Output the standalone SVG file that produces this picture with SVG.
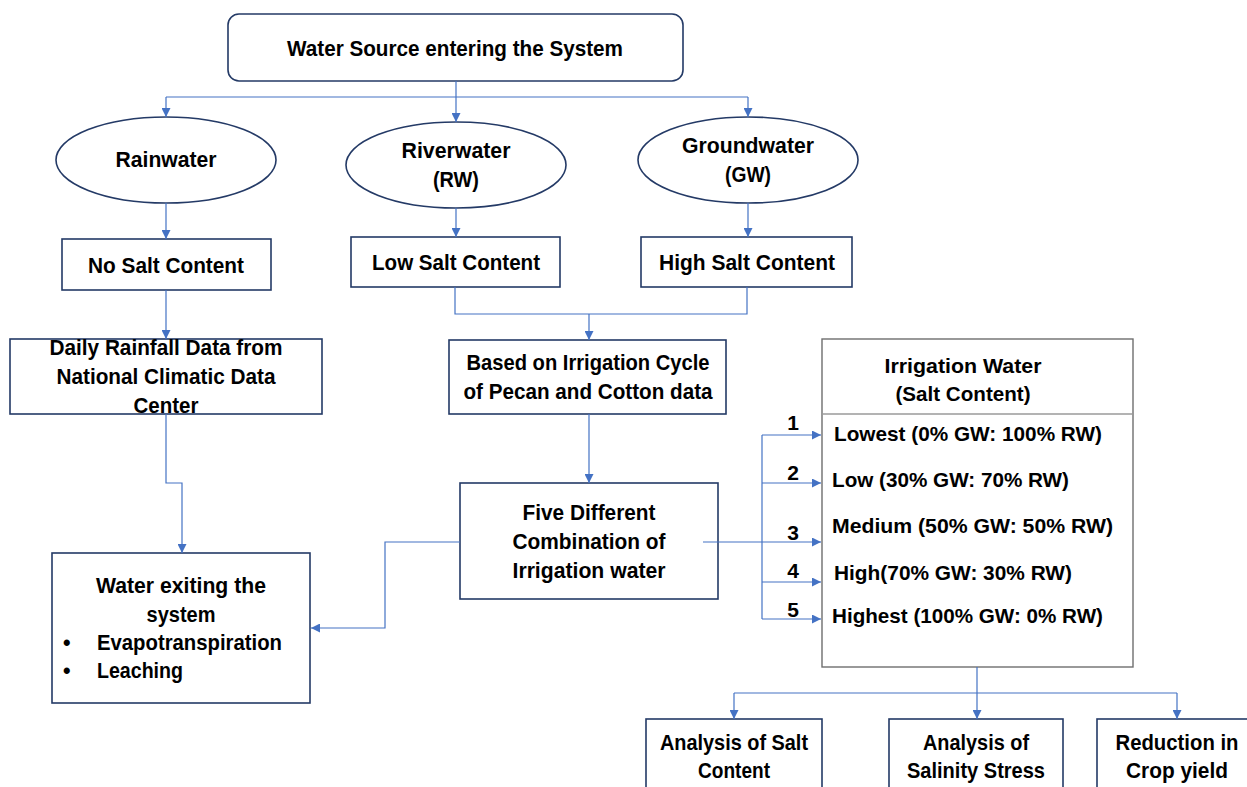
<svg xmlns="http://www.w3.org/2000/svg" width="1247" height="787" viewBox="0 0 1247 787">
<style>
  .box{fill:#fff;stroke:#243a66;stroke-width:1.6}
  .gbox{fill:#fff;stroke:#6e6e6e;stroke-width:1.4}
  .t{font-family:"Liberation Sans",Arial,sans-serif;font-weight:bold;font-size:21.5px;fill:#000;text-anchor:middle}
  .r{font-size:21px}
  .l{text-anchor:start}
  .c{fill:none;stroke:#4472C4;stroke-width:1.2}
</style>
<defs>
  <marker id="ah" viewBox="0 0 10 10" refX="10" refY="5" markerWidth="9" markerHeight="9" markerUnits="userSpaceOnUse" orient="auto">
    <path d="M0,0 L10,5 L0,10 z" fill="#4472C4"/>
  </marker>
</defs>
<rect width="1247" height="787" fill="#fff"/>
<g id="n-source">
  <rect class="box" x="228" y="14" width="455" height="67" rx="11"/>
  <text class="t" x="455" y="56" textLength="336" lengthAdjust="spacingAndGlyphs">Water Source entering the System</text>
</g>
<g id="n-rain">
  <ellipse class="box" cx="166" cy="160" rx="110" ry="43"/>
  <text class="t" x="166" y="167" textLength="101" lengthAdjust="spacingAndGlyphs">Rainwater</text>
</g>
<g id="n-river">
  <ellipse class="box" cx="456" cy="165" rx="110" ry="43"/>
  <text class="t" x="456" y="158" textLength="109" lengthAdjust="spacingAndGlyphs">Riverwater</text>
  <text class="t" x="456" y="187" textLength="46" lengthAdjust="spacingAndGlyphs">(RW)</text>
</g>
<g id="n-ground">
  <ellipse class="box" cx="748" cy="160" rx="110" ry="43"/>
  <text class="t" x="748" y="153" textLength="132" lengthAdjust="spacingAndGlyphs">Groundwater</text>
  <text class="t" x="748" y="182" textLength="46" lengthAdjust="spacingAndGlyphs">(GW)</text>
</g>
<g id="n-nosalt">
  <rect class="box" x="62" y="239" width="209" height="51"/>
  <text class="t" x="166" y="273" textLength="156" lengthAdjust="spacingAndGlyphs">No Salt Content</text>
</g>
<g id="n-lowsalt">
  <rect class="box" x="351" y="237" width="209" height="50"/>
  <text class="t" x="456" y="270" textLength="168" lengthAdjust="spacingAndGlyphs">Low Salt Content</text>
</g>
<g id="n-highsalt">
  <rect class="box" x="641" y="237" width="211" height="50"/>
  <text class="t" x="747" y="270" textLength="176" lengthAdjust="spacingAndGlyphs">High Salt Content</text>
</g>
<g id="n-daily">
  <rect class="box" x="10" y="339" width="312" height="75"/>
  <text class="t" x="166" y="355" textLength="233" lengthAdjust="spacingAndGlyphs">Daily Rainfall Data from</text>
  <text class="t" x="166" y="384" textLength="219" lengthAdjust="spacingAndGlyphs">National Climatic Data</text>
  <text class="t" x="166" y="413" textLength="65" lengthAdjust="spacingAndGlyphs">Center</text>
</g>
<g id="n-based">
  <rect class="box" x="449" y="340" width="277" height="74"/>
  <text class="t" x="588" y="370" textLength="243" lengthAdjust="spacingAndGlyphs">Based on Irrigation Cycle</text>
  <text class="t" x="588" y="399" textLength="249" lengthAdjust="spacingAndGlyphs">of Pecan and Cotton data</text>
</g>
<g id="n-five">
  <rect class="box" x="460" y="483" width="258" height="116"/>
  <text class="t" x="589" y="520" textLength="133" lengthAdjust="spacingAndGlyphs">Five Different</text>
  <text class="t" x="589" y="549" textLength="153" lengthAdjust="spacingAndGlyphs">Combination of</text>
  <text class="t" x="589" y="578" textLength="153" lengthAdjust="spacingAndGlyphs">Irrigation water</text>
</g>
<g id="n-exit">
  <rect class="box" x="52" y="553" width="258" height="150"/>
  <text class="t" x="181" y="593" textLength="170" lengthAdjust="spacingAndGlyphs">Water exiting the</text>
  <text class="t" x="181" y="622" textLength="69" lengthAdjust="spacingAndGlyphs">system</text>
  <text class="t l" x="63" y="650">•</text>
  <text class="t l" x="97" y="650" textLength="185" lengthAdjust="spacingAndGlyphs">Evapotranspiration</text>
  <text class="t l" x="63" y="678">•</text>
  <text class="t l" x="97" y="678" textLength="86" lengthAdjust="spacingAndGlyphs">Leaching</text>
</g>
<g id="n-irrigation">
  <rect class="gbox" x="822" y="339" width="311" height="328"/>
  <line x1="822" y1="414" x2="1133" y2="414" stroke="#9a9a9a" stroke-width="1.4"/>
  <text class="t r" x="963" y="373" textLength="157" lengthAdjust="spacingAndGlyphs">Irrigation Water</text>
  <text class="t r" x="963" y="401" textLength="135" lengthAdjust="spacingAndGlyphs">(Salt Content)</text>
  <text class="t r l" x="834" y="441" textLength="268" lengthAdjust="spacingAndGlyphs">Lowest (0% GW: 100% RW)</text>
  <text class="t r l" x="832" y="487" textLength="237" lengthAdjust="spacingAndGlyphs">Low (30% GW: 70% RW)</text>
  <text class="t r l" x="832" y="533" textLength="281" lengthAdjust="spacingAndGlyphs">Medium (50% GW: 50% RW)</text>
  <text class="t r l" x="834" y="580" textLength="238" lengthAdjust="spacingAndGlyphs">High(70% GW: 30% RW)</text>
  <text class="t r l" x="832" y="623" textLength="271" lengthAdjust="spacingAndGlyphs">Highest (100% GW: 0% RW)</text>
</g>
<g id="labels">
  <text class="t r" x="793" y="430">1</text>
  <text class="t r" x="793" y="480">2</text>
  <text class="t r" x="793" y="540">3</text>
  <text class="t r" x="793" y="578">4</text>
  <text class="t r" x="793" y="617">5</text>
</g>
<g id="n-salt">
  <rect class="box" x="646" y="719" width="176" height="80"/>
  <text class="t" x="734" y="750" textLength="148" lengthAdjust="spacingAndGlyphs">Analysis of Salt</text>
  <text class="t" x="734" y="778" textLength="72" lengthAdjust="spacingAndGlyphs">Content</text>
</g>
<g id="n-stress">
  <rect class="box" x="889" y="719" width="174" height="80"/>
  <text class="t" x="976" y="750" textLength="106" lengthAdjust="spacingAndGlyphs">Analysis of</text>
  <text class="t" x="976" y="778" textLength="138" lengthAdjust="spacingAndGlyphs">Salinity Stress</text>
</g>
<g id="n-yield">
  <rect class="box" x="1097" y="719" width="170" height="80"/>
  <text class="t" x="1177" y="750" textLength="123" lengthAdjust="spacingAndGlyphs">Reduction in</text>
  <text class="t" x="1177" y="778" textLength="102" lengthAdjust="spacingAndGlyphs">Crop yield</text>
</g>
<g id="connectors">
  <path class="c" d="M456,81 V97"/>
  <path class="c" d="M166,97 H748"/>
  <path class="c" d="M166,97 V117" marker-end="url(#ah)"/>
  <path class="c" d="M456,97 V122" marker-end="url(#ah)"/>
  <path class="c" d="M748,97 V117" marker-end="url(#ah)"/>
  <path class="c" d="M166,203 V239" marker-end="url(#ah)"/>
  <path class="c" d="M456,208 V237" marker-end="url(#ah)"/>
  <path class="c" d="M748,203 V237" marker-end="url(#ah)"/>
  <path class="c" d="M166,290 V339" marker-end="url(#ah)"/>
  <path class="c" d="M455,287 V314 H747 V287"/>
  <path class="c" d="M589,314 V340" marker-end="url(#ah)"/>
  <path class="c" d="M166,414 V483 H182 V553" marker-end="url(#ah)"/>
  <path class="c" d="M589,414 V483" marker-end="url(#ah)"/>
  <path class="c" d="M460,542 H385 V628 H311" marker-end="url(#ah)"/>
  <path class="c" d="M703,542 H821" marker-end="url(#ah)"/>
  <path class="c" d="M762,435 V619"/>
  <path class="c" d="M762,435 H821" marker-end="url(#ah)"/>
  <path class="c" d="M762,483 H821" marker-end="url(#ah)"/>
  <path class="c" d="M762,582 H821" marker-end="url(#ah)"/>
  <path class="c" d="M762,619 H821" marker-end="url(#ah)"/>
  <path class="c" d="M977,667 V719" marker-end="url(#ah)"/>
  <path class="c" d="M734,693 H1177"/>
  <path class="c" d="M734,693 V719" marker-end="url(#ah)"/>
  <path class="c" d="M1177,693 V719" marker-end="url(#ah)"/>
</g>
</svg>
